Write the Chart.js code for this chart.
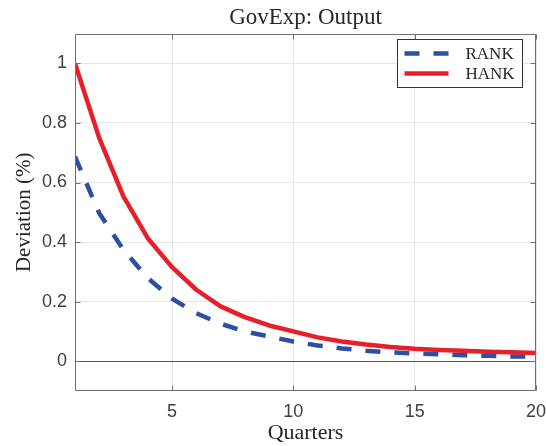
<!DOCTYPE html>
<html>
<head>
<meta charset="utf-8">
<title>GovExp: Output</title>
<script src="https://cdn.jsdelivr.net/npm/chart.js@4/dist/chart.umd.min.js"></script>
<style>
  html, body { margin: 0; padding: 0; background: #ffffff; }
  canvas { display: block; }
</style>
</head>
<body>
<canvas id="chart" width="546" height="446"></canvas>
<script>
// Impulse response of output to a government spending shock (percent deviation)
const quarters = [1, 2, 3, 4, 5, 6, 7, 8, 9, 10, 11, 12, 13, 14, 15, 16, 17, 18, 19, 20];
const rankValues = [0.687, 0.497, 0.374, 0.279, 0.210, 0.161, 0.126, 0.100, 0.083, 0.066,
                    0.053, 0.043, 0.035, 0.030, 0.026, 0.023, 0.020, 0.018, 0.016, 0.015];
const hankValues = [1.000, 0.749, 0.553, 0.413, 0.316, 0.240, 0.184, 0.148, 0.120, 0.100,
                    0.080, 0.066, 0.056, 0.048, 0.042, 0.038, 0.035, 0.032, 0.030, 0.028];
const seriesNames = ['RANK', 'HANK'];
const xTicks = [5, 10, 15, 20];
const yTicks = [0, 0.2, 0.4, 0.6, 0.8, 1];
const chartTitle = 'GovExp: Output';
const xTitle = 'Quarters';
const yTitle = 'Deviation (%)';

const AXIS_COLOR = '#6e6e6e';
const GRID_COLOR = '#e6e6e6';
const ZERO_COLOR = '#555555';
const SERIF = '"Liberation Serif", "Times New Roman", serif';
const SANS = '"Liberation Sans", Arial, sans-serif';

const toPoints = (ys) => quarters.map((q, i) => ({ x: q, y: ys[i] }));

// Box around the axes with inward tick marks on all four sides
const axesBox = {
  id: 'axesBox',
  afterDatasetsDraw(chart) {
    const { ctx, chartArea: a, scales: { x, y } } = chart;
    const L = Math.round(a.left) + 0.5, R = Math.round(a.right) - 0.5;
    const T = Math.round(a.top) + 0.5, B = Math.round(a.bottom) - 0.5;
    const len = 5;
    ctx.save();
    ctx.strokeStyle = AXIS_COLOR;
    ctx.lineWidth = 1;
    ctx.beginPath();
    ctx.rect(L, T, R - L, B - T);
    x.ticks.forEach(t => {
      const px = Math.round(x.getPixelForValue(t.value)) + 0.5;
      ctx.moveTo(px, B); ctx.lineTo(px, B - len);
      ctx.moveTo(px, T); ctx.lineTo(px, T + len);
    });
    y.ticks.forEach(t => {
      const py = Math.round(y.getPixelForValue(t.value)) + 0.5;
      ctx.moveTo(L, py); ctx.lineTo(L + len, py);
      ctx.moveTo(R, py); ctx.lineTo(R - len, py);
    });
    ctx.stroke();
    ctx.restore();
  }
};

// Legend box in the upper-right corner of the plot area
const insetLegend = {
  id: 'insetLegend',
  afterDraw(chart) {
    const { ctx, chartArea: a } = chart;
    const w = 125, h = 48;
    const bx = Math.round(a.right - 14 - w) + 0.5;
    const by = Math.round(a.top + 5) + 0.5;
    ctx.save();
    ctx.fillStyle = '#ffffff';
    ctx.fillRect(bx, by, w, h);
    ctx.strokeStyle = '#333333';
    ctx.lineWidth = 1;
    ctx.strokeRect(bx, by, w, h);
    chart.data.datasets.forEach((ds, i) => {
      const cy = by + 14 + i * 20;
      ctx.beginPath();
      ctx.strokeStyle = ds.borderColor;
      ctx.lineWidth = ds.borderWidth;
      ctx.lineCap = 'butt';
      ctx.setLineDash(ds.borderDash || []);
      ctx.moveTo(bx + 7, cy);
      ctx.lineTo(bx + 51, cy);
      ctx.stroke();
      ctx.setLineDash([]);
      ctx.fillStyle = '#262626';
      ctx.font = '17px ' + SERIF;
      ctx.textAlign = 'left';
      ctx.textBaseline = 'middle';
      ctx.fillText(ds.label, bx + 68, cy + 1);
    });
    ctx.restore();
  }
};

new Chart(document.getElementById('chart'), {
  type: 'line',
  data: {
    datasets: [
      {
        label: seriesNames[0],
        data: toPoints(rankValues),
        borderColor: '#2b4fa2',
        borderWidth: 4.5,
        borderDash: [15, 14],
        borderCapStyle: 'butt',
        borderJoinStyle: 'round',
        pointRadius: 0,
        tension: 0,
        fill: false,
        order: 1
      },
      {
        label: seriesNames[1],
        data: toPoints(hankValues),
        borderColor: '#e61f28',
        borderWidth: 4.5,
        borderCapStyle: 'butt',
        borderJoinStyle: 'round',
        pointRadius: 0,
        tension: 0,
        fill: false,
        order: 0
      }
    ]
  },
  options: {
    responsive: false,
    animation: false,
    devicePixelRatio: 1,
    layout: { padding: { left: 0, right: 0, top: 0, bottom: 0 } },
    plugins: {
      legend: { display: false },
      tooltip: { enabled: false },
      title: {
        display: true,
        text: chartTitle,
        fullSize: false,
        color: '#262626',
        font: { family: SERIF, size: 23, weight: 'normal' },
        padding: { top: 4, bottom: 2 }
      }
    },
    scales: {
      x: {
        type: 'linear',
        min: 1,
        max: 20,
        afterBuildTicks: (s) => { s.ticks = xTicks.map(v => ({ value: v })); },
        afterFit: (s) => { s.height = 55; s.paddingLeft = 0; s.paddingRight = 10; },
        grid: { color: GRID_COLOR, lineWidth: 1, drawTicks: false },
        border: { display: false },
        ticks: {
          color: '#404040',
          padding: 10,
          font: { family: SANS, size: 18 },
          maxRotation: 0,
          callback: (v) => String(v)
        },
        title: {
          display: true,
          text: xTitle,
          color: '#262626',
          font: { family: SERIF, size: 22, weight: 'normal' },
          padding: { top: 0, bottom: 0 }
        }
      },
      y: {
        type: 'linear',
        min: -0.1,
        max: 1.1,
        afterBuildTicks: (s) => { s.ticks = yTicks.map(v => ({ value: v })); },
        afterFit: (s) => { s.width = 75; },
        grid: {
          color: (c) => (c.tick && c.tick.value === 0 ? ZERO_COLOR : GRID_COLOR),
          lineWidth: 1,
          drawTicks: false
        },
        border: { display: false },
        ticks: {
          color: '#404040',
          padding: 8,
          font: { family: SANS, size: 18 },
          callback: (v) => String(Math.round(v * 10) / 10)
        },
        title: {
          display: true,
          text: yTitle,
          color: '#262626',
          font: { family: SERIF, size: 21, weight: 'normal' },
          padding: { top: 12, bottom: 0 }
        }
      }
    }
  },
  plugins: [axesBox, insetLegend]
});
</script>
</body>
</html>
